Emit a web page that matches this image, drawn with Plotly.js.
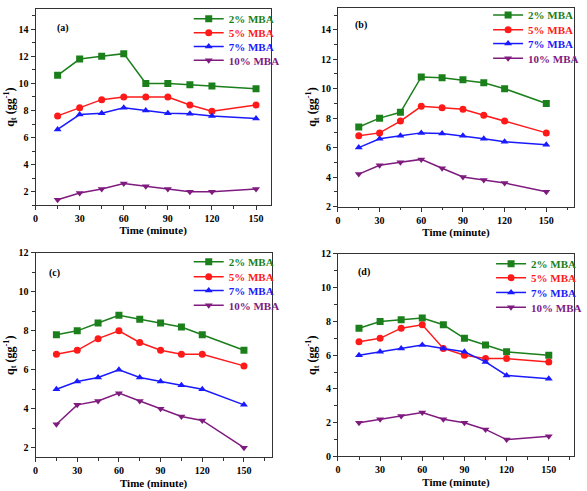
<!DOCTYPE html>
<html>
<head>
<meta charset="utf-8">
<script src="https://cdn.plot.ly/plotly-3.0.1.min.js"></script>
<style>
html,body{margin:0;padding:0;background:#fff;}
#chart{width:587px;height:491px;}
</style>
</head>
<body>
<div id="chart"></div>
<script>
// ---- data ----
const time = [15, 30, 45, 60, 75, 90, 105, 120, 150];
const seriesNames = ["2% MBA", "5% MBA", "7% MBA", "10% MBA"];
const panelLabels = ["(a)", "(b)", "(c)", "(d)"];

const a_2 = [10.6, 11.8, 12.0, 12.2, 10.0, 10.0, 9.9, 9.8, 9.6];
const a_5 = [7.6, 8.2, 8.8, 9.0, 9.0, 9.0, 8.4, 7.95, 8.4];
const a_7 = [6.6, 7.7, 7.8, 8.2, 8.0, 7.8, 7.75, 7.6, 7.4];
const a_10 = [1.4, 1.9, 2.2, 2.6, 2.4, 2.2, 2.0, 2.0, 2.2];

const b_2 = [7.4, 8.0, 8.4, 10.8, 10.75, 10.6, 10.4, 10.0, 9.0];
const b_5 = [6.8, 7.0, 7.8, 8.8, 8.7, 8.6, 8.2, 7.8, 7.0];
const b_7 = [6.0, 6.6, 6.8, 7.0, 6.95, 6.8, 6.6, 6.4, 6.2];
const b_10 = [4.2, 4.8, 5.0, 5.2, 4.6, 4.0, 3.8, 3.6, 3.0];

const c_2 = [7.8, 8.0, 8.4, 8.8, 8.6, 8.4, 8.2, 7.8, 7.0];
const c_5 = [6.8, 7.0, 7.6, 8.0, 7.4, 7.0, 6.8, 6.8, 6.2];
const c_7 = [5.0, 5.4, 5.6, 6.0, 5.6, 5.4, 5.2, 5.0, 4.2];
const c_10 = [3.2, 4.2, 4.4, 4.8, 4.4, 4.0, 3.6, 3.4, 2.0];

const d_2 = [7.6, 8.0, 8.1, 8.2, 7.8, 7.0, 6.6, 6.2, 6.0];
const d_5 = [6.8, 7.0, 7.6, 7.8, 6.4, 6.0, 5.8, 5.8, 5.6];
const d_7 = [6.0, 6.2, 6.4, 6.6, 6.4, 6.2, 5.6, 4.8, 4.6];
const d_10 = [2.0, 2.2, 2.4, 2.6, 2.2, 2.0, 1.6, 1.0, 1.2];

const xTickVals = [0, 30, 60, 90, 120, 150];

// ---- styles ----
const colors = ["#1b7f1b", "#ff1a1a", "#1a1aff", "#7f1a7f"];
const symbols = ["square", "circle", "triangle-up", "triangle-down"];
const FONT = "Liberation Serif, Times New Roman, serif";

const panels = [
  {data: [a_2, a_5, a_7, a_10], xr: [0, 160], yr: [1, 15.5],
   dx: [36/587, 274/587], dy: [1-201.7/491, 1-3/491],
   legX: 191, legY: [13, 27, 41, 55], lab: {x: 64, y: 22}},
  {data: [b_2, b_5, b_7, b_10], xr: [0, 170], yr: [2, 15.5],
   dx: [342/587, 581/587], dy: [1-203/491, 1-1.7/491],
   legX: 494, legY: [9, 24, 38, 53], lab: {x: 365, y: 19}},
  {data: [c_2, c_5, c_7, c_10], xr: [0, 170], yr: [1.5, 12],
   dx: [36/587, 275/587], dy: [1-457/491, 1-250/491],
   legX: 191, legY: [259, 274, 288, 303], lab: {x: 55, y: 270}},
  {data: [d_2, d_5, d_7, d_10], xr: [0, 168], yr: [0, 12],
   dx: [342/587, 581/587], dy: [1-456/491, 1-251/491],
   legX: 497, legY: [261, 275, 290, 305], lab: {x: 368, y: 269}}
];

const traces = [];
const layout = {
  width: 587, height: 491,
  margin: {l: 0, r: 0, t: 0, b: 0},
  paper_bgcolor: "#fff", plot_bgcolor: "#fff",
  font: {family: FONT, size: 10, color: "#000", weight: "bold"},
  showlegend: true,
  hovermode: false,
  annotations: []
};

panels.forEach((p, i) => {
  const n = i === 0 ? "" : String(i + 1);
  p.data.forEach((ys, k) => {
    const li = i * 4 + k + 1;
    const legName = li === 1 ? "legend" : "legend" + li;
    traces.push({
      type: "scatter", mode: "lines+markers",
      x: time, y: ys,
      xaxis: "x" + n, yaxis: "y" + n,
      name: seriesNames[k],
      legend: legName,
      line: {color: colors[k], width: 1.5},
      marker: {color: colors[k], symbol: symbols[k], size: 7}
    });
    layout[legName] = {
      x: p.legX / 587, y: 1 - p.legY[k] / 491, xanchor: "left", yanchor: "middle",
      xref: "paper", yref: "paper",
      bgcolor: "rgba(0,0,0,0)", borderwidth: 0,
      font: {family: FONT, size: 11, weight: "bold", color: colors[k]},
      itemwidth: 30
    };
  });
  const axBase = {
    showline: true, linecolor: "#333", linewidth: 1, mirror: true,
    showgrid: false, zeroline: false,
    ticks: "outside", ticklen: 4, tickwidth: 1, tickcolor: "#333",
    tickfont: {family: FONT, size: 10, color: "#000", weight: "bold"},
    automargin: false
  };
  layout["xaxis" + n] = Object.assign({}, axBase, {
    domain: p.dx, range: p.xr, anchor: "y" + n,
    tickmode: "array", tickvals: xTickVals,
    minor: {dtick: 15, tick0: 0, ticks: "outside", ticklen: 2.5, tickcolor: "#333"},
    title: {text: "Time (minute)", standoff: 3,
            font: {family: FONT, size: 11, color: "#000", weight: "bold"}}
  });
  layout["yaxis" + n] = Object.assign({}, axBase, {
    domain: p.dy, range: p.yr, anchor: "x" + n,
    tick0: 0, dtick: 2,
    minor: {dtick: 1, tick0: 0, ticks: "outside", ticklen: 2.5, tickcolor: "#333"},
    title: {text: "q<sub>t</sub> (gg<sup>-1</sup>)", standoff: 1,
            font: {family: FONT, size: 12, color: "#000", weight: "bold"}}
  });
  layout.annotations.push({
    xref: "paper", yref: "paper", x: p.lab.x / 587, y: 1 - p.lab.y / 491,
    xanchor: "center", yanchor: "middle", showarrow: false,
    text: panelLabels[i],
    font: {family: FONT, size: 10, color: "#000", weight: "bold"}
  });
});

Plotly.newPlot("chart", traces, layout, {displayModeBar: false, staticPlot: true});
</script>
</body>
</html>
